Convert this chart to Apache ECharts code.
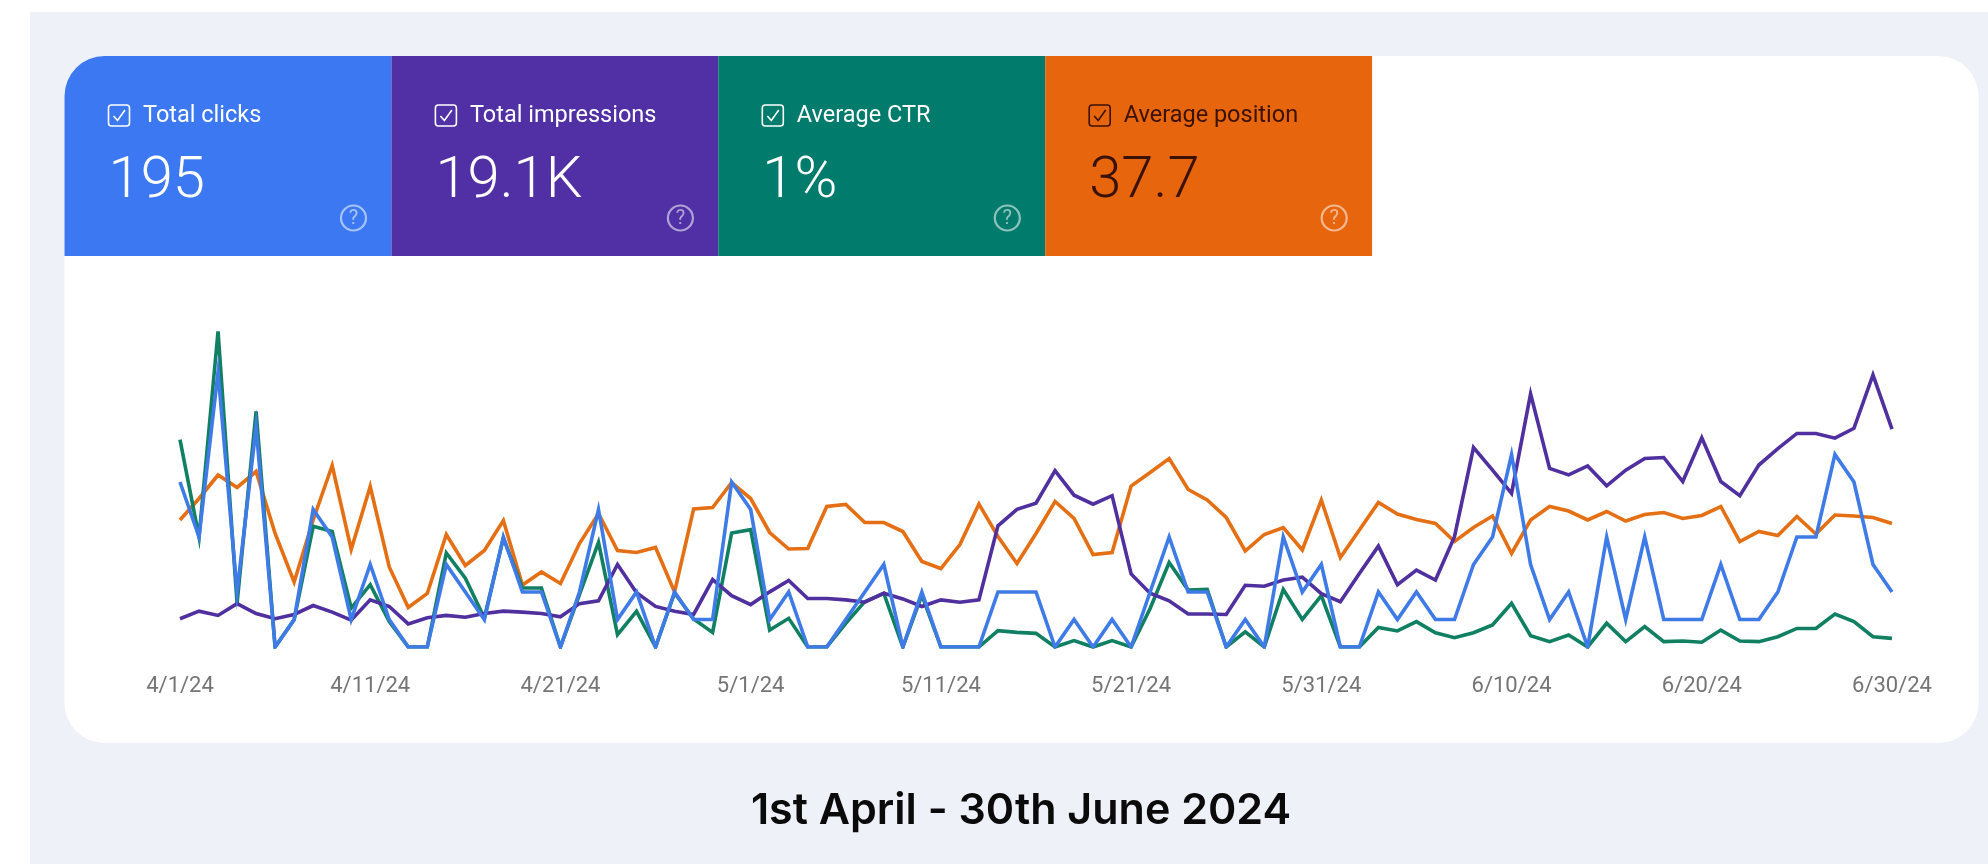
<!DOCTYPE html>
<html>
<head>
<meta charset="utf-8">
<title>Search performance</title>
<style>
  html, body { margin: 0; padding: 0; background: #fff; }
  #main { width: 1988px; height: 864px; }
</style>
</head>
<body>
<div id="main"></div>
<script src="https://cdn.jsdelivr.net/npm/echarts@6/dist/echarts.min.js"></script>
<script>
const dates = [
  "4/1/24","4/2/24","4/3/24","4/4/24","4/5/24","4/6/24","4/7/24","4/8/24","4/9/24","4/10/24",
  "4/11/24","4/12/24","4/13/24","4/14/24","4/15/24","4/16/24","4/17/24","4/18/24","4/19/24","4/20/24",
  "4/21/24","4/22/24","4/23/24","4/24/24","4/25/24","4/26/24","4/27/24","4/28/24","4/29/24","4/30/24",
  "5/1/24","5/2/24","5/3/24","5/4/24","5/5/24","5/6/24","5/7/24","5/8/24","5/9/24","5/10/24",
  "5/11/24","5/12/24","5/13/24","5/14/24","5/15/24","5/16/24","5/17/24","5/18/24","5/19/24","5/20/24",
  "5/21/24","5/22/24","5/23/24","5/24/24","5/25/24","5/26/24","5/27/24","5/28/24","5/29/24","5/30/24",
  "5/31/24","6/1/24","6/2/24","6/3/24","6/4/24","6/5/24","6/6/24","6/7/24","6/8/24","6/9/24",
  "6/10/24","6/11/24","6/12/24","6/13/24","6/14/24","6/15/24","6/16/24","6/17/24","6/18/24","6/19/24",
  "6/20/24","6/21/24","6/22/24","6/23/24","6/24/24","6/25/24","6/26/24","6/27/24","6/28/24","6/29/24",
  "6/30/24"
];

const clicks = [
  6,4,10,2,8,0,1,5,4,1,
  3,1,0,0,3,2,1,4,2,2,
  0,2,5,1,2,0,2,1,1,6,
  5,1,2,0,0,1,2,3,0,2,
  0,0,0,2,2,2,0,1,0,1,
  0,2,4,2,2,0,1,0,4,2,
  3,0,0,2,1,2,1,1,3,4,
  7,3,1,2,0,4,1,4,1,1,
  1,3,1,1,2,4,4,7,6,3,
  2
];

const impressions = [
  60,76,67,92,71,60,69,88,74,57,
  100,86,49,62,67,63,71,76,74,71,
  64,92,98,175,115,86,76,69,143,109,
  90,117,141,103,103,100,95,114,102,86,
  100,95,100,257,292,305,374,322,303,321,
  155,114,98,70,70,69,131,129,142,148,
  113,96,156,214,132,163,142,234,423,375,
  326,537,379,365,384,342,375,400,402,351,
  444,351,321,386,421,453,453,443,464,577,
  462
];

const ctr = [
  10.05,5.33,15.3,2.13,11.42,0,1.32,5.85,5.6,1.89,
  3.02,1.24,0,0,4.56,3.34,1.41,5.28,2.86,2.86,
  0,2.54,5.07,0.6,1.73,0,2.62,1.36,0.71,5.53,
  5.69,0.82,1.39,0,0,1.15,2.2,2.6,0,2.52,
  0,0,0,0.79,0.71,0.66,0,0.31,0,0.31,
  0,1.87,4.1,2.76,2.79,0,0.74,0,2.79,1.34,
  2.49,0,0,0.95,0.78,1.23,0.69,0.45,0.69,1.07,
  2.12,0.55,0.26,0.58,0,1.15,0.26,0.99,0.26,0.29,
  0.23,0.82,0.29,0.26,0.5,0.9,0.9,1.6,1.23,0.5,
  0.42
];

const position = [
  40.6,36.3,31.6,34.1,30.9,43.3,53,40.6,29.7,46.5,
  33.9,50,58.1,55.3,43.5,49.7,46.7,40.7,53.6,51,
  53.3,45.3,39.3,46.7,47.1,46.1,55,38.4,38.1,33.1,
  36.3,43.1,46.4,46.3,37.9,37.5,41.1,41.1,42.9,48.9,
  50.3,45.5,37.4,43.9,49.3,43.3,36.9,40.3,47.5,47.1,
  33.8,31.1,28.3,34.5,36.6,40.1,46.8,43.5,42.1,46.6,
  36.6,48.1,42.6,37.1,39.4,40.5,41.3,44.9,42.1,39.8,
  47.3,40.6,37.9,38.8,40.6,38.9,40.8,39.5,39.1,40.3,
  39.7,37.9,44.9,42.9,43.7,39.9,43.4,39.6,39.8,40.1,
  41.3
];

const tileLabels = ["Total clicks", "Total impressions", "Average CTR", "Average position"];
const tileValues = ["195", "19.1K", "1%", "37.7"];
const tileColors = ["#3b78f1", "#5130a5", "#017b6c", "#e7650c"];
const tileInk = ["#ffffff", "#ffffff", "#ffffff", "#3a1204"];
const lineColors = { clicks: "#3f7be6", impressions: "#50309f", ctr: "#117f62", position: "#e56f14" };

const TILE_LEFT = 64.5;
const TILE_W = 326.9;
const font = "Roboto";

const shapes = [
  { type: "rect", shape: { x: 30, y: 12, width: 1958, height: 852 }, style: { fill: "#eef1f8" } },
  { type: "rect", shape: { x: 64.5, y: 56, width: 1914, height: 687, r: 40 }, style: { fill: "#ffffff" } }
];

tileLabels.forEach((label, i) => {
  const x = TILE_LEFT + i * TILE_W;
  const ink = tileInk[i];
  shapes.push({
    type: "rect",
    shape: { x: x, y: 56, width: TILE_W, height: 200, r: i === 0 ? [40, 0, 0, 0] : 0 },
    style: { fill: tileColors[i] }
  });
  // checkbox
  shapes.push({
    type: "rect",
    shape: { x: x + 44, y: 105, width: 21, height: 21, r: 3 },
    style: { fill: "none", stroke: ink, lineWidth: 1.6 }
  });
  shapes.push({
    type: "polyline",
    shape: { points: [[x + 49, 116], [x + 53, 120.5], [x + 60.5, 110]] },
    style: { fill: "none", stroke: ink, lineWidth: 1.6 }
  });
  shapes.push({
    type: "text",
    style: { text: label, x: x + 78.5, y: 116.5, fill: ink, font: "400 23.5px " + font, textVerticalAlign: "middle" }
  });
  shapes.push({
    type: "text",
    style: { text: tileValues[i], x: x + 44, y: 182, fill: ink, font: "300 58px " + font, textVerticalAlign: "middle" }
  });
  // help icon
  shapes.push({
    type: "circle",
    shape: { cx: x + 289, cy: 218, r: 12.5 },
    style: { fill: "none", stroke: "rgba(255,255,255,0.55)", lineWidth: 2.2 }
  });
  shapes.push({
    type: "text",
    style: { text: "?", x: x + 289, y: 219, fill: "rgba(255,255,255,0.55)", font: "400 20px " + font, textAlign: "center", textVerticalAlign: "middle" }
  });
});

shapes.push({
  type: "text",
  style: { text: "1st April - 30th June 2024", x: 1021, y: 811, fill: "#0a0a0a", font: "600 43px Inter", textAlign: "center", textVerticalAlign: "middle" }
});

function lineSeries(name, data, axis, color) {
  return {
    name: name,
    type: "line",
    yAxisIndex: axis,
    data: data,
    showSymbol: false,
    silent: true,
    animation: false,
    lineStyle: { color: color, width: 3.6, join: "miter" }
  };
}

const myChart = echarts.init(document.getElementById("main"), null, { renderer: "canvas" });
myChart.setOption({
  animation: false,
  graphic: { elements: shapes },
  grid: { left: 180, right: 96, top: 317, bottom: 217 },
  xAxis: {
    type: "category",
    data: dates,
    boundaryGap: false,
    axisLine: { show: false },
    axisTick: { show: false },
    splitLine: { show: false },
    axisLabel: { interval: 9, color: "#757575", fontFamily: font, fontSize: 22, margin: 28, hideOverlap: false, showMinLabel: true, showMaxLabel: true }
  },
  yAxis: [
    { type: "value", show: false, min: 0, max: 12 },
    { type: "value", show: false, min: 0, max: 700 },
    { type: "value", show: false, min: 0, max: 16 },
    { type: "value", show: false, min: 0, max: 66, inverse: true }
  ],
  series: [
    lineSeries("Average position", position, 3, lineColors.position),
    lineSeries("Average CTR", ctr, 2, lineColors.ctr),
    lineSeries("Total impressions", impressions, 1, lineColors.impressions),
    lineSeries("Total clicks", clicks, 0, lineColors.clicks)
  ]
});
</script>
</body>
</html>
